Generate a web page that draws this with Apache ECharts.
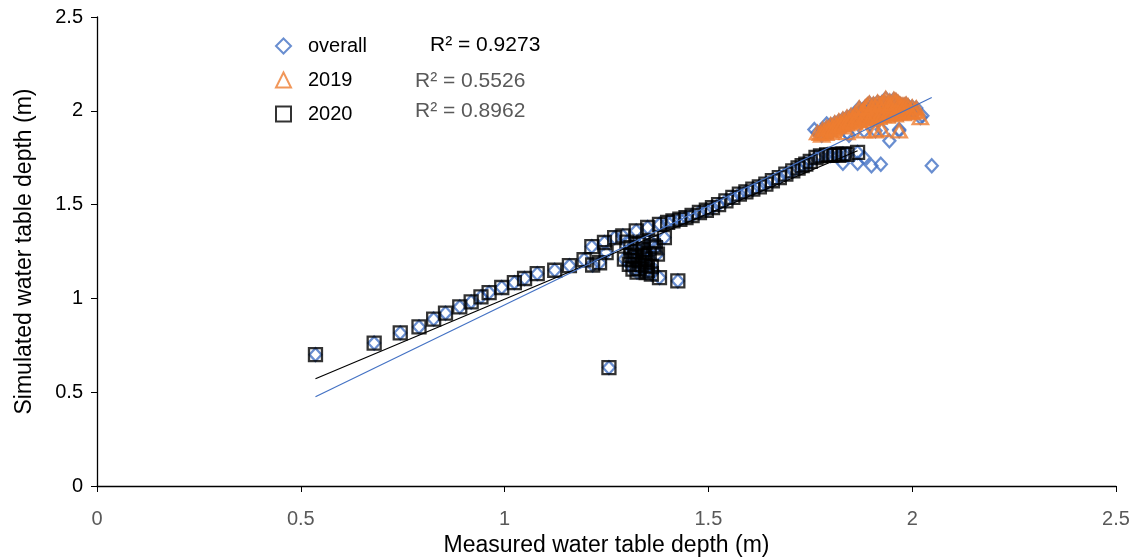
<!DOCTYPE html>
<html>
<head>
<meta charset="utf-8">
<script src="https://cdn.jsdelivr.net/npm/echarts@6/dist/echarts.min.js"></script>
<style>html,body{margin:0;padding:0;background:#fff}#c{width:1133px;height:558px}</style>
</head>
<body>
<div id="c"></div>
<script>
// ---- data ----
const xTicks = [0, 0.5, 1, 1.5, 2, 2.5];
const yTicks = [0, 0.5, 1, 1.5, 2, 2.5];
const seriesNames = ['overall', '2019', '2020'];
const r2Labels = ['R\u00b2 = 0.9273', 'R\u00b2 = 0.5526', 'R\u00b2 = 0.8962'];

// 2020 points (measured, simulated)
const data2020 = [
  [0.536,0.700],[0.680,0.762],[0.744,0.816],[0.790,0.848],[0.826,0.890],[0.855,0.921],
  [0.890,0.955],[0.918,0.981],[0.942,1.008],[0.962,1.031],[0.993,1.058],[1.024,1.084],
  [1.049,1.106],[1.080,1.132],[1.123,1.150],[1.159,1.175],[1.195,1.206],[1.216,1.178],
  [1.214,1.276],[1.233,1.190],[1.245,1.298],[1.249,1.244],[1.256,0.631],[1.270,1.324],
  [1.290,1.333],[1.294,1.209],[1.306,1.182],[1.315,1.156],[1.323,1.360],[1.347,1.138],
  [1.380,1.111],[1.425,1.093],[1.375,1.236],[1.392,1.324],[1.339,1.227],
  [1.300,1.300],[1.310,1.270],[1.320,1.250],[1.320,1.220],[1.330,1.200],[1.335,1.180],
  [1.340,1.260],[1.345,1.210],[1.350,1.190],[1.355,1.240],[1.360,1.170],[1.365,1.280],
  [1.310,1.230],[1.325,1.290],[1.340,1.300],[1.360,1.300],[1.370,1.270],[1.330,1.160],
  [1.350,1.150],[1.360,1.130],[1.325,1.140],[1.345,1.175],[1.315,1.205],
  [1.351,1.378],[1.380,1.395],[1.400,1.405],[1.413,1.413],[1.430,1.422],[1.445,1.431],
  [1.460,1.442],[1.478,1.458],[1.495,1.470],[1.510,1.484],[1.525,1.500],[1.543,1.520],
  [1.560,1.538],[1.576,1.556],[1.592,1.568],[1.609,1.582],[1.625,1.595],[1.641,1.609],
  [1.657,1.627],[1.674,1.644],[1.690,1.662],[1.707,1.680],[1.720,1.695],[1.730,1.708],
  [1.739,1.716],[1.750,1.730],[1.764,1.751],[1.775,1.760],[1.790,1.765],[1.800,1.762],
  [1.810,1.768],[1.820,1.763],[1.830,1.770],[1.840,1.768],[1.866,1.778]
];

// 2019 points
const data2019 = [
  [1.768,1.884],[1.800,1.885],[1.840,1.884],[1.882,1.893],[1.910,1.893],[1.925,1.900],
  [1.968,1.893],[2.020,1.964],
  [1.775,1.880],[1.780,1.900],[1.785,1.890],[1.790,1.910],[1.795,1.905],[1.800,1.925],
  [1.805,1.915],[1.810,1.935],[1.815,1.925],[1.820,1.945],[1.825,1.935],[1.830,1.955],
  [1.835,1.945],[1.840,1.965],[1.845,1.955],[1.850,1.975],[1.855,1.960],[1.860,1.985],
  [1.865,1.970],[1.870,1.995],[1.875,1.975],[1.880,2.005],[1.885,1.985],[1.890,2.030],
  [1.895,1.990],[1.900,2.015],[1.905,1.995],[1.910,2.025],[1.915,2.000],[1.920,2.035],
  [1.925,2.005],[1.930,2.045],[1.935,2.065],[1.940,2.030],[1.945,2.050],[1.950,2.010],
  [1.955,2.040],[1.960,2.055],[1.965,2.020],[1.970,2.035],[1.975,2.005],[1.980,2.030],
  [1.985,2.010],[1.990,2.025],[1.995,2.000],[2.000,2.020],[2.005,1.995],[2.010,2.015],
  [1.860,1.950],[1.880,1.960],[1.900,1.975],[1.920,1.985],[1.940,1.990],[1.960,1.995],
  [1.845,1.935],[1.825,1.915],[1.805,1.895],
  [1.778,1.870],[1.788,1.880],[1.798,1.898],[1.808,1.905],[1.818,1.918],[1.828,1.928],
  [1.838,1.930],[1.848,1.945],[1.858,1.940],[1.868,1.955],[1.878,1.948],[1.888,1.965],
  [1.898,1.958],[1.908,1.970],[1.918,1.965],[1.928,1.975],[1.938,1.972],[1.948,1.985],
  [1.958,1.978],[1.968,1.990],[1.978,1.985],[1.988,1.995],[1.998,1.990],[2.008,2.000],
  [1.870,2.015],[1.885,2.020],[1.895,2.040],[1.905,2.035],[1.915,2.045],[1.925,2.040],
  [1.935,2.040],[1.945,2.025],[1.955,2.060],[1.965,2.045],[1.975,2.030],[1.985,2.035]
];

// overall-only points (not shown in the yearly series)
const overallExtra = [
  [1.760,1.900],[1.790,1.930],[1.830,1.720],[1.845,1.870],[1.866,1.720],[1.882,1.750],
  [1.900,1.707],[1.923,1.715],[1.944,1.840],[1.968,1.900],[2.025,1.973],[2.048,1.707]
];

// trendline endpoints
const trendOverall = [[0.536,0.476],[2.048,2.071]];
const trend2020 = [[0.536,0.572],[1.866,1.787]];

const dataOverall = data2020.concat(data2019, overallExtra);

const FONT = 'Liberation Sans, Arial, sans-serif';
const chart = echarts.init(document.getElementById('c'), null, {renderer: 'canvas'});
chart.setOption({
  animation: false,
  backgroundColor: '#ffffff',
  textStyle: {fontFamily: FONT},
  grid: {left: 97, right: 17, top: 17, bottom: 72, containLabel: false, outerBoundsMode: 'none'},
  legend: {
    orient: 'vertical', left: 270, top: 31, itemGap: 14,
    itemWidth: 15, itemHeight: 15,
    data: seriesNames,
    textStyle: {fontSize: 20, lineHeight: 20, color: '#000', fontFamily: FONT, padding: [0,0,0,12]}
  },
  xAxis: {
    type: 'value', min: xTicks[0], max: xTicks[xTicks.length-1], interval: 0.5,
    name: 'Measured water table depth (m)', nameLocation: 'middle', nameGap: 45,
    nameTextStyle: {fontSize: 23, color: '#000', fontFamily: FONT},
    axisLine: {show: true, onZero: false, lineStyle: {color: '#000', width: 1.3}},
    axisTick: {show: true, length: 6, lineStyle: {color: '#000'}},
    axisLabel: {fontSize: 20, color: '#595959', margin: 23, fontFamily: FONT},
    splitLine: {show: false}
  },
  yAxis: {
    type: 'value', min: yTicks[0], max: yTicks[yTicks.length-1], interval: 0.5,
    name: 'Simulated water table depth (m)', nameLocation: 'middle', nameGap: 61,
    nameTextStyle: {fontSize: 23, color: '#000', fontFamily: FONT},
    axisLine: {show: true, onZero: false, lineStyle: {color: '#000', width: 1.3}},
    axisTick: {show: true, length: 6, lineStyle: {color: '#000'}},
    axisLabel: {fontSize: 20, color: '#000', margin: 14, fontFamily: FONT},
    splitLine: {show: false}
  },
  graphic: [
    {type: 'text', left: 430, top: 35, style: {text: r2Labels[0], fontSize: 21, fill: '#000', fontFamily: FONT}},
    {type: 'text', left: 415, top: 71, style: {text: r2Labels[1], fontSize: 21, fill: '#595959', fontFamily: FONT}},
    {type: 'text', left: 415, top: 101, style: {text: r2Labels[2], fontSize: 21, fill: '#595959', fontFamily: FONT}}
  ],
  series: [
    {
      name: seriesNames[0], type: 'scatter', symbol: 'diamond', symbolSize: [12, 13],
      data: dataOverall, z: 2,
      itemStyle: {color: 'rgba(0,0,0,0)', borderColor: '#4472C4', borderWidth: 2.3}
    },
    {
      name: seriesNames[1], type: 'scatter', symbol: 'triangle', symbolSize: [15, 13],
      data: data2019, z: 3,
      itemStyle: {color: 'rgba(0,0,0,0)', borderColor: '#ED7D31', borderWidth: 2.5}
    },
    {
      name: seriesNames[2], type: 'scatter', symbol: 'rect', symbolSize: 13,
      data: data2020, z: 4,
      itemStyle: {color: 'rgba(0,0,0,0)', borderColor: '#000', borderWidth: 2.3}
    },
    {
      type: 'line', data: trendOverall, symbol: 'none', z: 6, silent: true,
      lineStyle: {color: '#4472C4', width: 1.2}
    },
    {
      type: 'line', data: trend2020, symbol: 'none', z: 5, silent: true,
      lineStyle: {color: '#000', width: 1.2}
    }
  ]
});
</script>
</body>
</html>
